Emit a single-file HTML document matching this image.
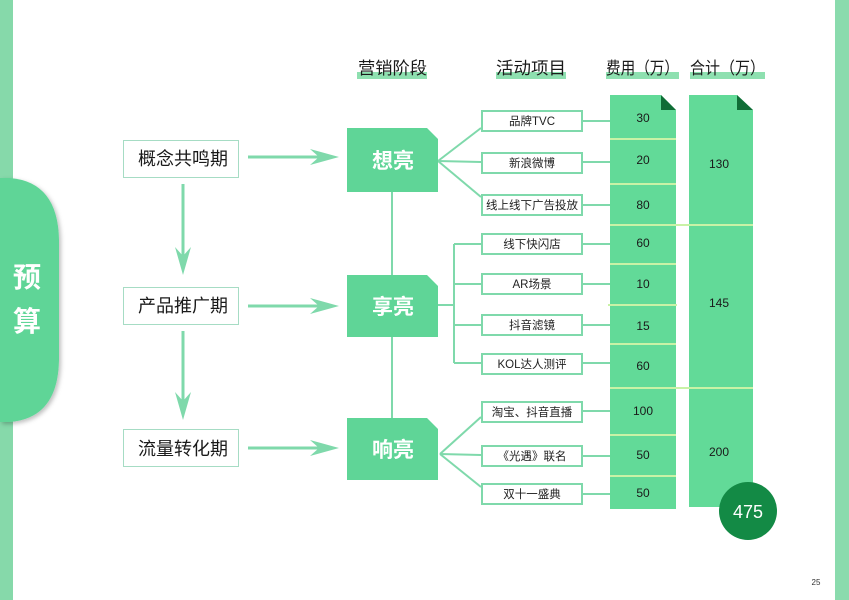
<!DOCTYPE html>
<html><head><meta charset="utf-8"><style>
html,body{margin:0;padding:0;background:#fff;}
svg{display:block;}
text{font-family:"Liberation Sans","Noto Sans CJK SC",sans-serif;}
</style></head><body>
<svg width="849" height="600" viewBox="0 0 849 600" xmlns="http://www.w3.org/2000/svg">
<defs>
<filter id="sh" x="-20%" y="-10%" width="150%" height="130%">
<feDropShadow dx="2" dy="2" stdDeviation="2" flood-color="#000" flood-opacity="0.25"/>
</filter>
</defs>
<rect x="0" y="0" width="849" height="600" fill="#fff"/>
<!-- side bands -->
<rect x="0" y="0" width="13" height="600" fill="#86d9aa"/>
<rect x="835" y="0" width="14" height="600" fill="#8adbad"/>
<!-- tab -->
<path d="M0,178 L10,178 Q58,182 59,240 L59,360 Q58,418 10,422 L0,422 Z" fill="#5fd597" filter="url(#sh)"/>
<text x="27" y="287" font-size="28" font-weight="bold" fill="#fff" text-anchor="middle">预</text>
<text x="27" y="331" font-size="28" font-weight="bold" fill="#fff" text-anchor="middle">算</text>

<!-- headers -->
<rect x="357" y="72" width="70" height="7" fill="#8ee0b0"/>
<rect x="496" y="72" width="70" height="7" fill="#8ee0b0"/>
<rect x="606" y="72" width="73" height="7" fill="#8ee0b0"/>
<rect x="690" y="72" width="75" height="7" fill="#8ee0b0"/>
<text x="358" y="74" font-size="17" fill="#1a1a1a" textLength="69" lengthAdjust="spacingAndGlyphs">营销阶段</text>
<text x="496" y="74" font-size="17" fill="#1a1a1a" textLength="70" lengthAdjust="spacingAndGlyphs">活动项目</text>
<text x="606" y="74" font-size="17" fill="#1a1a1a" textLength="73" lengthAdjust="spacingAndGlyphs">费用（万）</text>
<text x="690" y="74" font-size="17" fill="#1a1a1a" textLength="75" lengthAdjust="spacingAndGlyphs">合计（万）</text>

<!-- left phase boxes -->
<g fill="#fff" stroke="#a6dcc4" stroke-width="1">
<rect x="123.5" y="140.5" width="115" height="37"/>
<rect x="123.5" y="287.5" width="115" height="37"/>
<rect x="123.5" y="429.5" width="115" height="37"/>
</g>
<g font-size="18" fill="#1a1a1a" text-anchor="middle">
<text x="183" y="165">概念共鸣期</text>
<text x="183" y="312">产品推广期</text>
<text x="183" y="455">流量转化期</text>
</g>

<!-- arrows -->
<g stroke="#7fd9ab" stroke-width="3" fill="none">
<line x1="183" y1="184" x2="183" y2="262"/>
<line x1="183" y1="331" x2="183" y2="407"/>
<line x1="248" y1="157" x2="325" y2="157"/>
<line x1="248" y1="306" x2="325" y2="306"/>
<line x1="248" y1="448" x2="325" y2="448"/>
</g>
<g fill="#7fd9ab">
<polygon points="183,275 175,247 183,256 191,247"/>
<polygon points="183,420 175,392 183,401 191,392"/>
<polygon points="339,157 310,149 319,157 310,165"/>
<polygon points="339,306 310,298 319,306 310,314"/>
<polygon points="339,448 310,440 319,448 310,456"/>
</g>

<!-- stage connectors -->
<g stroke="#7fd9ab" stroke-width="2" fill="none">
<line x1="392" y1="192" x2="392" y2="275"/>
<line x1="392" y1="337" x2="392" y2="418"/>
<line x1="438" y1="161" x2="481" y2="128"/>
<line x1="438" y1="161" x2="481" y2="162"/>
<line x1="438" y1="161" x2="481" y2="197"/>
<line x1="438" y1="305" x2="454" y2="305"/>
<line x1="454" y1="244" x2="454" y2="363"/>
<line x1="454" y1="244" x2="481" y2="244"/>
<line x1="454" y1="284" x2="481" y2="284"/>
<line x1="454" y1="325" x2="481" y2="325"/>
<line x1="454" y1="363" x2="481" y2="363"/>
<line x1="440" y1="454" x2="481" y2="417"/>
<line x1="440" y1="454" x2="481" y2="455"/>
<line x1="440" y1="454" x2="481" y2="487"/>
<line x1="583" y1="121" x2="611" y2="121"/>
<line x1="583" y1="162" x2="611" y2="162"/>
<line x1="583" y1="205" x2="611" y2="205"/>
<line x1="583" y1="244" x2="611" y2="244"/>
<line x1="583" y1="284" x2="611" y2="284"/>
<line x1="583" y1="325" x2="611" y2="325"/>
<line x1="583" y1="363" x2="611" y2="363"/>
<line x1="583" y1="411" x2="611" y2="411"/>
<line x1="583" y1="456" x2="611" y2="456"/>
<line x1="583" y1="494" x2="611" y2="494"/>
</g>

<!-- stage boxes -->
<g fill="#5fd597">
<polygon points="347,128 427,128 438,139 438,192 347,192"/>
<polygon points="347,275 427,275 438,286 438,337 347,337"/>
<polygon points="347,418 427,418 438,429 438,480 347,480"/>
</g>
<g font-size="21" font-weight="bold" fill="#fff" text-anchor="middle">
<text x="393" y="168">想亮</text>
<text x="393" y="314">享亮</text>
<text x="393" y="457">响亮</text>
</g>

<!-- activity boxes -->
<g fill="#fff" stroke="#7fd9ab" stroke-width="2">
<rect x="482" y="111" width="100" height="20"/>
<rect x="482" y="153" width="100" height="20"/>
<rect x="482" y="195" width="100" height="20"/>
<rect x="482" y="234" width="100" height="20"/>
<rect x="482" y="274" width="100" height="20"/>
<rect x="482" y="315" width="100" height="20"/>
<rect x="482" y="354" width="100" height="20"/>
<rect x="482" y="402" width="100" height="20"/>
<rect x="482" y="446" width="100" height="20"/>
<rect x="482" y="484" width="100" height="20"/>
</g>
<g font-size="11.5" fill="#222" text-anchor="middle">
<text x="532" y="125">品牌TVC</text>
<text x="532" y="167">新浪微博</text>
<text x="532" y="209">线上线下广告投放</text>
<text x="532" y="248">线下快闪店</text>
<text x="532" y="288">AR场景</text>
<text x="532" y="329">抖音滤镜</text>
<text x="532" y="368">KOL达人测评</text>
<text x="532" y="416">淘宝、抖音直播</text>
<text x="532" y="460">《光遇》联名</text>
<text x="532" y="498">双十一盛典</text>
</g>

<!-- fee column -->
<polygon points="610,95 661,95 676,110 676,509 610,509" fill="#62da98"/>
<polygon points="661,95 676,110 661,110" fill="#106d36"/>
<!-- total column -->
<polygon points="689,95 737,95 753,110 753,507 689,507" fill="#62da98"/>
<polygon points="737,95 753,110 737,110" fill="#106d36"/>
<!-- separators -->
<g stroke="#c9f2a6" stroke-width="2">
<line x1="610" y1="139" x2="676" y2="139"/>
<line x1="610" y1="184" x2="676" y2="184"/>
<line x1="610" y1="225" x2="753" y2="225"/>
<line x1="610" y1="264" x2="676" y2="264"/>
<line x1="608" y1="305" x2="677" y2="305"/>
<line x1="610" y1="344" x2="676" y2="344"/>
<line x1="610" y1="388" x2="753" y2="388"/>
<line x1="610" y1="435" x2="676" y2="435"/>
<line x1="610" y1="476" x2="676" y2="476"/>
</g>
<g font-size="12" fill="#1a1a1a" text-anchor="middle">
<text x="643" y="122">30</text>
<text x="643" y="164">20</text>
<text x="643" y="209">80</text>
<text x="643" y="247">60</text>
<text x="643" y="288">10</text>
<text x="643" y="330">15</text>
<text x="643" y="370">60</text>
<text x="643" y="415">100</text>
<text x="643" y="459">50</text>
<text x="643" y="497">50</text>
<text x="719" y="168">130</text>
<text x="719" y="307">145</text>
<text x="719" y="456">200</text>
</g>

<!-- total circle -->
<circle cx="748" cy="511" r="29" fill="#138a45"/>
<text x="748" y="518" font-size="18" fill="#fff" text-anchor="middle">475</text>

<text x="816" y="585" font-size="8" fill="#333" text-anchor="middle">25</text>
</svg>
</body></html>
